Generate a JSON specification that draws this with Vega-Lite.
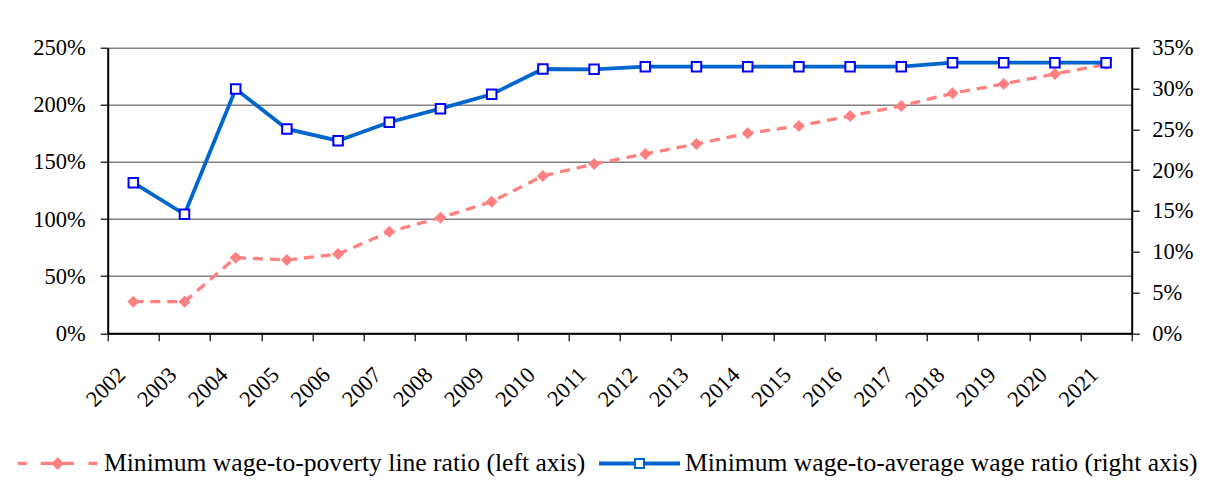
{
  "$schema": "https://vega.github.io/schema/vega-lite/v6.json",
  "width": 1024,
  "height": 285.6,
  "autosize": {"type": "none"},
  "padding": {"left": 107.7, "top": 47.7, "right": 81.3, "bottom": 156.7},
  "background": "white",
  "config": {
    "view": {"stroke": null},
    "font": "'Liberation Serif', 'Times New Roman', serif",
    "axis": {
      "labelFont": "'Liberation Serif', 'Times New Roman', serif",
      "labelFontSize": 22.5,
      "labelColor": "black",
      "domainColor": "black",
      "domainWidth": 2,
      "tickColor": "black",
      "tickWidth": 1.2,
      "tickSize": 7.5,
      "title": null
    }
  },
  "datasets": {
    "wages": [
      {"year": "2002", "poverty": 0.277, "average": 0.1846},
      {"year": "2003", "poverty": 0.277, "average": 0.1458},
      {"year": "2004", "poverty": 0.662, "average": 0.2994},
      {"year": "2005", "poverty": 0.642, "average": 0.2504},
      {"year": "2006", "poverty": 0.694, "average": 0.236},
      {"year": "2007", "poverty": 0.889, "average": 0.2586},
      {"year": "2008", "poverty": 1.012, "average": 0.2753},
      {"year": "2009", "poverty": 1.152, "average": 0.2929},
      {"year": "2010", "poverty": 1.377, "average": 0.3239},
      {"year": "2011", "poverty": 1.482, "average": 0.3235},
      {"year": "2012", "poverty": 1.57, "average": 0.3267},
      {"year": "2013", "poverty": 1.657, "average": 0.3267},
      {"year": "2014", "poverty": 1.751, "average": 0.3267},
      {"year": "2015", "poverty": 1.815, "average": 0.3267},
      {"year": "2016", "poverty": 1.902, "average": 0.3267},
      {"year": "2017", "poverty": 1.99, "average": 0.3267},
      {"year": "2018", "poverty": 2.101, "average": 0.3316},
      {"year": "2019", "poverty": 2.183, "average": 0.3316},
      {"year": "2020", "poverty": 2.27, "average": 0.3316},
      {"year": "2021", "poverty": 2.355, "average": 0.3316}
    ],
    "legendItems": [
      {"series": "Minimum wage-to-poverty line ratio (left axis)"},
      {"series": "Minimum wage-to-average wage ratio (right axis)"}
    ]
  },
  "layer": [
    {
      "data": {"name": "wages"},
      "encoding": {
        "x": {
          "field": "year",
          "type": "ordinal",
          "scale": {"type": "band", "paddingInner": 0, "paddingOuter": 0},
          "axis": {
            "labelAngle": -45,
            "labelAlign": "right",
            "labelBaseline": "middle",
            "labelOffset": -12,
            "labelPadding": 30,
            "tickBand": "extent",
            "grid": false
          }
        },
        "y": {
          "field": "poverty",
          "type": "quantitative",
          "scale": {"domain": [0, 2.5], "nice": false, "zero": true},
          "axis": {
            "orient": "left",
            "values": [0, 0.5, 1, 1.5, 2, 2.5],
            "format": ".0%",
            "grid": true,
            "gridColor": "#808080",
            "gridWidth": 1.5,
            "labelPadding": 15
          }
        }
      },
      "layer": [
        {
          "mark": {"type": "line", "color": "#FF8080", "strokeWidth": 3.3, "strokeDash": [10, 7], "strokeCap": "butt"}
        },
        {
          "mark": {"type": "point", "shape": "diamond", "filled": true, "color": "#FF8080", "size": 144, "opacity": 1}
        }
      ]
    },
    {
      "data": {"name": "wages"},
      "encoding": {
        "x": {
          "field": "year",
          "type": "ordinal",
          "scale": {"type": "band", "paddingInner": 0, "paddingOuter": 0},
          "axis": {
            "labelAngle": -45,
            "labelAlign": "right",
            "labelBaseline": "middle",
            "labelOffset": -12,
            "labelPadding": 30,
            "tickBand": "extent",
            "grid": false
          }
        },
        "y": {
          "field": "average",
          "type": "quantitative",
          "scale": {"domain": [0, 0.35], "nice": false, "zero": true},
          "axis": {
            "orient": "right",
            "values": [0, 0.05, 0.1, 0.15, 0.2, 0.25, 0.3, 0.35],
            "format": ".0%",
            "grid": false,
            "labelPadding": 12.5
          }
        }
      },
      "layer": [
        {
          "mark": {"type": "line", "color": "#0066CC", "strokeWidth": 3.8}
        },
        {
          "mark": {"type": "point", "shape": "square", "filled": true, "fill": "white", "stroke": "#0000FF", "strokeWidth": 2, "size": 90, "opacity": 1}
        }
      ]
    },
    {
      "data": {"name": "legendItems"},
      "mark": {"type": "point", "filled": true, "opacity": 0},
      "encoding": {
        "color": {
          "field": "series",
          "type": "nominal",
          "scale": {
            "domain": ["Minimum wage-to-poverty line ratio (left axis)", "Minimum wage-to-average wage ratio (right axis)"],
            "range": ["#FF8080", "#0066CC"]
          },
          "legend": {
            "title": null,
            "orient": "none",
            "legendX": -89.7,
            "legendY": 374.8,
            "direction": "horizontal",
            "padding": 0,
            "symbolSize": 6561,
            "symbolStrokeWidth": 0,
            "symbolOpacity": 1,
            "labelFont": "'Liberation Serif', 'Times New Roman', serif",
            "labelFontSize": 25.6,
            "labelColor": "black",
            "labelLimit": 2000,
            "labelOffset": 5,
            "columnPadding": 13,
            "encode": {"symbols": {"update": {"opacity": {"value": 1}, "fillOpacity": {"value": 1}}}}
          }
        },
        "shape": {
          "field": "series",
          "type": "nominal",
          "scale": {
            "domain": ["Minimum wage-to-poverty line ratio (left axis)", "Minimum wage-to-average wage ratio (right axis)"],
            "range": [
              "M-1,-0.04H-0.78V0.04H-1Z M-0.44,-0.04H0.38V0.04H-0.44Z M-0.02,-0.16L0.13,0L-0.02,0.16L-0.17,0Z M0.74,-0.04H0.96V0.04H0.74Z",
              "M-1,-0.05H-0.13V0.05H-1Z M0.13,-0.05H1V0.05H0.13Z M-0.136,-0.136H0.136V0.136H-0.136Z M-0.086,-0.086V0.086H0.086V-0.086Z"
            ]
          },
          "legend": {
            "title": null,
            "orient": "none",
            "legendX": -89.7,
            "legendY": 374.8,
            "direction": "horizontal",
            "padding": 0,
            "symbolSize": 6561,
            "symbolStrokeWidth": 0,
            "symbolOpacity": 1,
            "labelFont": "'Liberation Serif', 'Times New Roman', serif",
            "labelFontSize": 25.6,
            "labelColor": "black",
            "labelLimit": 2000,
            "labelOffset": 5,
            "columnPadding": 13,
            "encode": {"symbols": {"update": {"opacity": {"value": 1}, "fillOpacity": {"value": 1}}}}
          }
        }
      }
    }
  ],
  "resolve": {"scale": {"y": "independent"}}
}
